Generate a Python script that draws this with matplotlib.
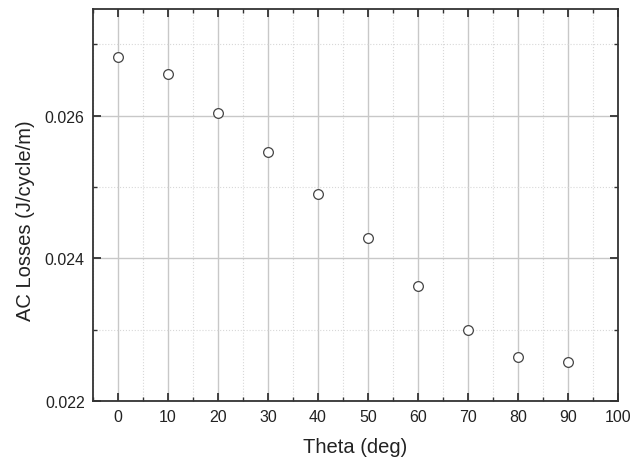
import matplotlib
matplotlib.use("Agg")
import matplotlib.pyplot as plt
from matplotlib.ticker import MultipleLocator

plt.rcParams['font.family'] = ['Liberation Sans', 'DejaVu Sans']

theta = [0, 10, 20, 30, 40, 50, 60, 70, 80, 90]
losses = [0.026825, 0.02658, 0.026042, 0.025483, 0.024895,
          0.02429, 0.023618, 0.022997, 0.02262, 0.022541]

fig = plt.figure(figsize=(6.42, 4.64), dpi=100)
ax = fig.add_axes([0.1449, 0.1336, 0.8177, 0.8459])

ax.plot(theta, losses, linestyle='none', marker='o', markersize=7,
        markerfacecolor='white', markeredgecolor='#444444', markeredgewidth=0.9, zorder=3)

ax.set_xlim(-5, 100)
ax.set_ylim(0.022, 0.0275)
ax.xaxis.set_major_locator(MultipleLocator(10))
ax.xaxis.set_minor_locator(MultipleLocator(5))
ax.yaxis.set_major_locator(MultipleLocator(0.002))
ax.yaxis.set_minor_locator(MultipleLocator(0.001))

ax.grid(True, which='major', color='#c8c8c8', linewidth=1.0, linestyle='-')
ax.grid(True, which='minor', color='#d8d8d8', linewidth=0.8, linestyle=':')
ax.set_axisbelow(True)

for s in ax.spines.values():
    s.set_color('#333333')
    s.set_linewidth(1.3)

ax.tick_params(which='both', direction='in', top=True, right=True,
               color='#333333', labelsize=11.5, labelcolor='#222222')
ax.tick_params(which='major', length=6, width=1.3, pad=6)
ax.tick_params(which='minor', length=3, width=1.0)

ax.set_xlabel('Theta (deg)', fontsize=14.5, color='#222222', labelpad=9)
ax.set_ylabel('AC Losses (J/cycle/m)', fontsize=14.5, color='#222222', labelpad=7, y=0.462)

fig.savefig('out.png', dpi=100)
